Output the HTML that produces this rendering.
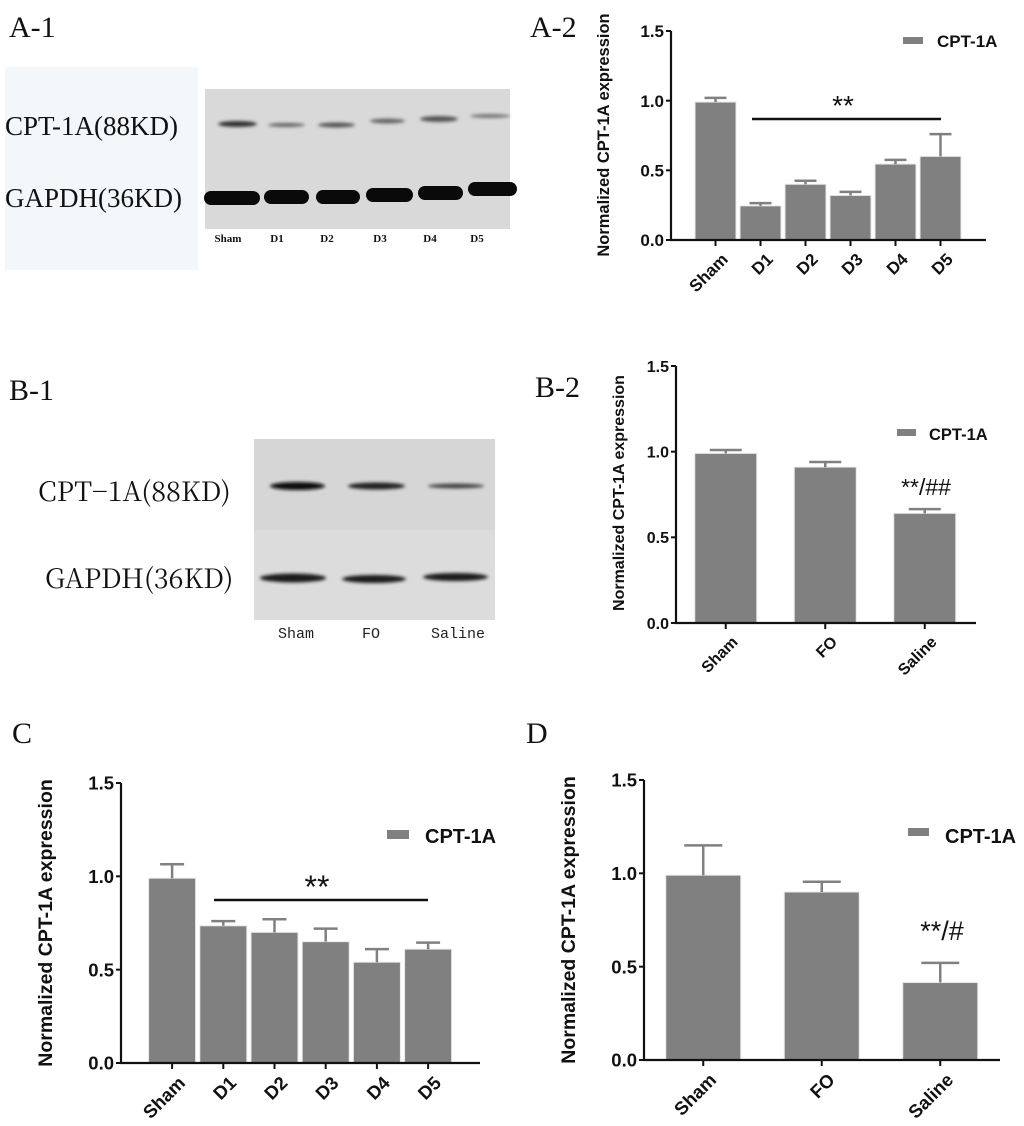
<!DOCTYPE html>
<html><head><meta charset="utf-8">
<style>
html,body{margin:0;padding:0;background:#fff;}
svg{display:block;}
.pl{font-family:"Liberation Serif",serif;font-size:30px;fill:#111;}
.ax{font-family:"Liberation Sans",sans-serif;font-weight:bold;fill:#111;}
</style></head>
<body>
<svg id="fig" width="1024" height="1126" viewBox="0 0 1024 1126" xmlns="http://www.w3.org/2000/svg">
<defs>
<filter id="blur1" x="-20%" y="-100%" width="140%" height="300%"><feGaussianBlur stdDeviation="1.5"/></filter>
</defs>
<text class="pl" x="9" y="37">A-1</text>
<text class="pl" x="530" y="37">A-2</text>
<text class="pl" x="9" y="400">B-1</text>
<text class="pl" x="535" y="397">B-2</text>
<text class="pl" x="12" y="743">C</text>
<text class="pl" x="526" y="743">D</text>

<g>
<rect x="5" y="67" width="193" height="203" fill="#f3f7f9"/>
<text x="5" y="135" font-family="Liberation Serif,serif" font-size="27" fill="#111">CPT-1A(88KD)</text>
<text x="5" y="207" font-family="Liberation Serif,serif" font-size="27" fill="#111">GAPDH(36KD)</text>
<rect x="205" y="89" width="305" height="140" fill="#d9d9d9"/>
<g id="a1bands"></g>
<g font-family="Liberation Serif,serif" font-size="11" font-weight="bold" fill="#111" text-anchor="middle">
<text x="228" y="242">Sham</text>
<text x="277" y="242">D1</text>
<text x="327" y="242">D2</text>
<text x="380" y="242">D3</text>
<text x="430" y="242">D4</text>
<text x="477" y="242">D5</text>
</g>
</g>

<g>
<text x="38" y="501" font-family="Noto Serif CJK SC,Liberation Serif,serif" font-size="27" fill="#111">CPT−1A(88KD)</text>
<text x="45" y="588" font-family="Noto Serif CJK SC,Liberation Serif,serif" font-size="27" fill="#111">GAPDH(36KD)</text>
<rect x="254" y="439" width="241" height="92" fill="#d6d6d6"/>
<rect x="254" y="530" width="241" height="90" fill="#dcdcdc"/>
<g id="b1bands"></g>
<g font-family="Liberation Mono,monospace" font-size="15" fill="#222">
<text x="278" y="638">Sham</text>
<text x="362" y="638">FO</text>
<text x="431" y="638">Saline</text>
</g>
</g>

<g id="chartA2"></g>
<g id="chartB2"></g>
<g id="chartC"></g>
<g id="chartD"></g>
</svg>
<script>
const a2Categories = ["Sham","D1","D2","D3","D4","D5"];
const a2Values = [0.99,0.245,0.40,0.32,0.545,0.60];
const a2Errors = [0.03,0.02,0.025,0.025,0.03,0.16];
const b2Categories = ["Sham","FO","Saline"];
const b2Values = [0.99,0.91,0.64];
const b2Errors = [0.02,0.03,0.025];
const cCategories = ["Sham","D1","D2","D3","D4","D5"];
const cValues = [0.99,0.735,0.70,0.65,0.54,0.61];
const cErrors = [0.075,0.025,0.07,0.07,0.07,0.035];
const dCategories = ["Sham","FO","Saline"];
const dValues = [0.99,0.90,0.415];
const dErrors = [0.16,0.055,0.105];
const yTickLabels = ["0.0","0.5","1.0","1.5"];
const yTickValues = [0,0.5,1.0,1.5];

const NS="http://www.w3.org/2000/svg";
function mk(tag,attrs,parent){const e=document.createElementNS(NS,tag);for(const k in attrs)e.setAttribute(k,attrs[k]);parent.appendChild(e);return e;}

function drawChart(g,o,cats,vals,errs){
  const y=v=>o.y0-(v/1.5)*(o.y0-o.y15);
  const x=i=>o.x1+i*o.slot+o.slot/2;
  cats.forEach((c,i)=>{
    const cx=x(i);
    const b=mk('rect',{x:cx-o.bw/2,y:y(vals[i]),width:o.bw,height:o.y0-y(vals[i]),fill:'#808080',stroke:'#e8e8e8','stroke-width':1},g);
    
    
    const e=mk('path',{d:`M${cx} ${y(vals[i])} V${y(vals[i]+errs[i])} M${cx-o.cap} ${y(vals[i]+errs[i])} H${cx+o.cap}`,stroke:'#808080','stroke-width':2.5,fill:'none'},g);
    
    
    const t=mk('path',{d:`M${cx} ${o.y0} V${o.y0+6}`,stroke:'#111','stroke-width':2},g);
    
    
    const lx=cx+5, ly=o.y0+12;
    const l=mk('text',{x:lx,y:ly,'text-anchor':'end','font-size':o.fs,class:'ax',transform:`rotate(-45 ${lx} ${ly})`,dy:'0.7em'},g);
    l.textContent=c;
    
    
  });
  const ax=mk('path',{d:`M${o.ax} ${o.y15} V${o.y0} H${o.xend}`,stroke:'#111','stroke-width':2.2,fill:'none'},g);
  
  
  yTickValues.forEach((v,i)=>{
    const t=mk('path',{d:`M${o.ax-5} ${y(v)} H${o.ax}`,stroke:'#111','stroke-width':2},g);
    
    
    const l=mk('text',{x:o.ax-7,y:y(v)+o.fs*0.36,'text-anchor':'end','font-size':o.fs,class:'ax'},g);
    l.textContent=yTickLabels[i];
    
    
  });
  const yl=mk('text',{x:o.ylx,y:o.yly,'text-anchor':'middle','font-size':o.yfs,class:'ax',transform:`rotate(-90 ${o.ylx} ${o.yly})`},g);
  yl.textContent='Normalized CPT-1A expression';
  
  
  const lr=mk('rect',{x:o.lgx,y:o.lgy,width:o.lgw,height:o.lgh,fill:'#808080'},g);
  
  
  const lt=mk('text',{x:o.lgtx,y:o.lgty,'font-size':o.lfs,class:'ax'},g);
  lt.textContent='CPT-1A';
  
  
  if(o.sigLine){
    const sl=mk('path',{d:`M${o.sigLine[0]} ${o.sigLine[2]} H${o.sigLine[1]}`,stroke:'#111','stroke-width':2.5},g);
    
    
  }
  const st=mk('text',{x:o.sigx,y:o.sigy,'text-anchor':'middle','font-size':o.sfs,'font-family':'Liberation Sans,sans-serif',fill:'#111'},g);
  st.textContent=o.sigText;
  
  
}

drawChart(document.getElementById('chartA2'),{ax:671,x1:693,slot:45,bw:41,cap:11,y0:240,y15:31,xend:986,fs:17,yfs:16.5,ylx:609,yly:135,
  lgx:903,lgy:37,lgw:20,lgh:7,lgtx:937,lgty:47,lfs:17,sigLine:[752,941,119],sigx:843,sigy:115,sigText:'**',sfs:28},a2Categories,a2Values,a2Errors);
drawChart(document.getElementById('chartB2'),{ax:676,x1:676,slot:99.5,bw:62,cap:16,y0:623,y15:366,xend:976,fs:16,yfs:16,ylx:624,yly:493,
  lgx:897,lgy:429,lgw:19,lgh:7,lgtx:929,lgty:440,lfs:16.5,sigx:926,sigy:495,sigText:'**/##',sfs:23},b2Categories,b2Values,b2Errors);
drawChart(document.getElementById('chartC'),{ax:121,x1:146.5,slot:51.2,bw:47,cap:12,y0:1063,y15:783,xend:480,fs:18.5,yfs:19.5,ylx:52,yly:923,
  lgx:387,lgy:830,lgw:22,lgh:9,lgtx:425,lgty:843,lfs:20,sigLine:[214,428,900],sigx:317,sigy:898,sigText:'**',sfs:32},cCategories,cValues,cErrors);
drawChart(document.getElementById('chartD'),{ax:644,x1:644,slot:118.5,bw:75,cap:19,y0:1060,y15:780,xend:1000,fs:18.5,yfs:19.5,ylx:575,yly:920,
  lgx:908,lgy:828,lgw:21,lgh:8,lgtx:945,lgty:843,lfs:20,sigx:942,sigy:940,sigText:'**/#',sfs:27},dCategories,dValues,dErrors);

const a1CptBands=[[218,257,124,6,'#333'],[268,305,125,4,'#666'],[318,355,125,5,'#555'],[370,405,121,5,'#666'],[420,458,119,6,'#555'],[470,510,116,4,'#777']];
const a1GapBands=[[204,260,198,14],[264,309,197,14],[316,360,197,14],[366,413,195,14],[418,463,193,14],[468,517,189,14]];
const a1=document.getElementById('a1bands');
a1CptBands.forEach(b=>{const e=mk('ellipse',{cx:(b[0]+b[1])/2,cy:b[2],rx:(b[1]-b[0])/2,ry:b[3]/2,fill:b[4],filter:'url(#blur1)'},a1);

});
a1GapBands.forEach(b=>{const e=mk('rect',{x:b[0],y:b[2]-b[3]/2,width:b[1]-b[0],height:b[3],rx:7,fill:'#0a0a0a'},a1);

});
const b1Bands=[[270,325,486,8,'#111'],[348,405,486,7,'#222'],[428,484,486,5,'#444'],[260,326,578,9,'#1a1a1a'],[342,406,579,8,'#1a1a1a'],[423,488,577,8,'#1a1a1a']];
const b1=document.getElementById('b1bands');
b1Bands.forEach(b=>{const e=mk('ellipse',{cx:(b[0]+b[1])/2,cy:b[2],rx:(b[1]-b[0])/2,ry:b[3]/2,fill:b[4],filter:'url(#blur1)'},b1);

});
</script>
</body></html>
